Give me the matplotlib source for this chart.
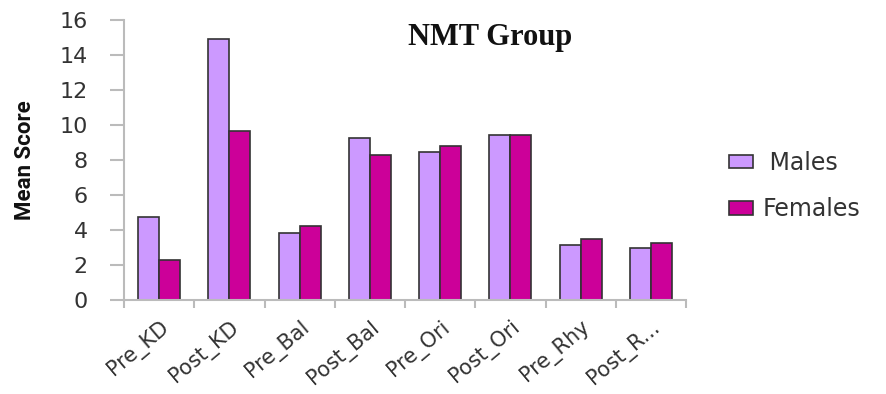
import matplotlib
matplotlib.use("Agg")
import matplotlib.pyplot as plt
from matplotlib.patches import Patch
import numpy as np

categories = ["Pre_KD", "Post_KD", "Pre_Bal", "Post_Bal", "Pre_Ori", "Post_Ori", "Pre_Rhy", "Post_R..."]
males = [4.74, 14.9, 3.81, 9.24, 8.44, 9.41, 3.14, 2.97]
females = [2.29, 9.64, 4.23, 8.30, 8.80, 9.41, 3.50, 3.26]
series_names = [" Males", "Females"]
colors = ["#CC99FF", "#CC0099"]

fig = plt.figure(figsize=(8.86, 3.94), dpi=100)
ax = fig.add_axes([124 / 886, 1 - 300 / 394, (686 - 124) / 886, (300 - 20) / 394])

x = np.arange(len(categories))
w = 0.3
ax.bar(x - w / 2, males, width=w, color=colors[0], edgecolor="#333333", linewidth=1.2)
ax.bar(x + w / 2, females, width=w, color=colors[1], edgecolor="#333333", linewidth=1.2)

ax.set_xlim(-0.5, len(categories) - 0.5)
ax.set_ylim(0, 16)
ax.set_yticks(np.arange(0, 17, 2))

for s in ["top", "right"]:
    ax.spines[s].set_visible(False)
for s in ["left", "bottom"]:
    ax.spines[s].set_color("#BBBBBB")
    ax.spines[s].set_linewidth(1.5)

ax.tick_params(axis="y", length=10, width=1.5, color="#BBBBBB", labelsize=16,
               labelcolor="#333333", pad=16)

ax.set_xticks(x)
ax.set_xticklabels(categories, rotation=40, ha="right", rotation_mode="anchor",
                   fontsize=15, color="#333333")
ax.tick_params(axis="x", which="major", length=0, pad=12)
ax.set_xticks(np.arange(-0.5, len(categories), 1.0), minor=True)
ax.tick_params(axis="x", which="minor", length=6, width=1.5, color="#BBBBBB")

fig.text(25 / 886, 1 - 160 / 394, "Mean Score", rotation=90, ha="center", va="center",
         fontsize=16, fontweight="bold", family=["Roboto", "DejaVu Sans"], color="#111111")

fig.text(490 / 886, 1 - 38 / 394, "NMT Group", ha="center", va="center",
         fontsize=22, fontweight="bold", family=["Liberation Serif", "DejaVu Serif"],
         color="#111111")

handles = [Patch(facecolor=c, edgecolor="#333333", linewidth=1.2) for c in colors]
fig.legend(handles, series_names, loc="center left", bbox_to_anchor=(708 / 886, 1 - 186 / 394),
           frameon=False, fontsize=17, handlelength=1.0, handleheight=0.5,
           handletextpad=0.4, labelspacing=0.95, labelcolor="#333333")

fig.savefig("out.png", dpi=100)
